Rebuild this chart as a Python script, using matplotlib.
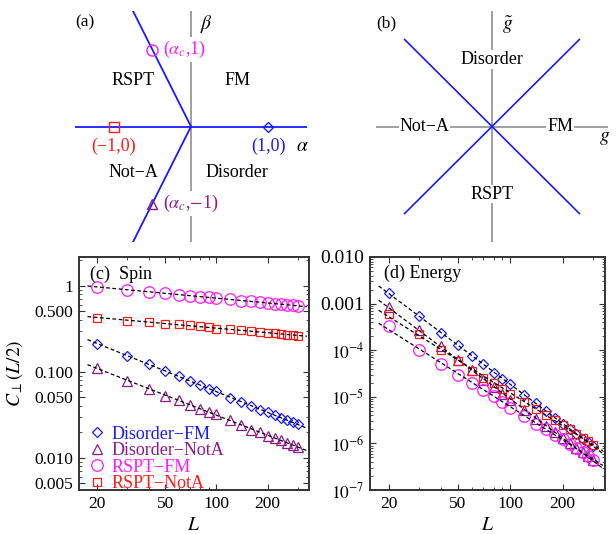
import numpy as np
import matplotlib
matplotlib.use("Agg")
import matplotlib.pyplot as plt

plt.rcParams['font.family'] = ['Liberation Serif', 'DejaVu Serif']
plt.rcParams['mathtext.fontset'] = 'stix'

# ---- data ----
alpha_c = -0.5
diag_end = 1.13

L = [20, 30, 40, 50, 60, 70, 80, 90, 100, 120, 140, 160, 180, 200, 220, 240, 260, 280, 300]

spin_dis_fm = [0.212, 0.153, 0.124, 0.101, 0.0883, 0.0772, 0.0706, 0.0629, 0.059, 0.0494,
               0.0444, 0.0395, 0.0362, 0.0337, 0.0311, 0.0289, 0.0277, 0.0258, 0.0246]
spin_dis_nota = [0.110, 0.0786, 0.0629, 0.0526, 0.0464, 0.0413, 0.0368, 0.0337, 0.0325, 0.0272,
                 0.0238, 0.0212, 0.0197, 0.0180, 0.0169, 0.0159, 0.0148, 0.0142, 0.0133]
spin_rspt_fm = [0.96, 0.90, 0.85, 0.81, 0.785, 0.765, 0.745, 0.73, 0.715, 0.69,
                0.67, 0.655, 0.64, 0.628, 0.617, 0.607, 0.598, 0.59, 0.582]
spin_rspt_nota = [0.421, 0.392, 0.375, 0.362, 0.355, 0.346, 0.337, 0.328, 0.316, 0.313,
                  0.303, 0.294, 0.287, 0.284, 0.279, 0.274, 0.269, 0.264, 0.262]

energy_dis_fm = [1.72e-3, 5.3e-4, 2.34e-4, 1.27e-4, 7.6e-5, 4.95e-5, 3.3e-5, 2.45e-5, 1.86e-5, 1.1e-5,
                 7.4e-6, 5.0e-6, 3.57e-6, 2.66e-6, 2.07e-6, 1.6e-6, 1.27e-6, 1.06e-6, 8.7e-7]
energy_dis_nota = [8.5e-4, 2.75e-4, 1.22e-4, 6.2e-5, 3.7e-5, 2.35e-5, 1.62e-5, 1.16e-5, 8.5e-6, 5.2e-6,
                   3.4e-6, 2.35e-6, 1.72e-6, 1.30e-6, 1.0e-6, 7.9e-7, 6.4e-7, 5.3e-7, 4.4e-7]
energy_rspt_fm = [3.26e-4, 1.02e-4, 5.1e-5, 3.0e-5, 2.0e-5, 1.38e-5, 1.03e-5, 7.8e-6, 5.8e-6, 3.8e-6,
                  2.66e-6, 2.0e-6, 1.55e-6, 1.22e-6, 9.8e-7, 8.0e-7, 6.6e-7, 5.4e-7, 4.5e-7]
energy_rspt_nota = [5.9e-4, 2.2e-4, 1.03e-4, 5.9e-5, 3.6e-5, 2.5e-5, 2.0e-5, 1.5e-5, 1.17e-5, 7.8e-6,
                    5.4e-6, 4.0e-6, 3.15e-6, 2.5e-6, 2.0e-6, 1.62e-6, 1.33e-6, 1.12e-6, 9.2e-7]

labels = ['Disorder\u2212FM', 'Disorder\u2212NotA', 'RSPT\u2212FM', 'RSPT\u2212NotA']

BLUE = '#1a1aff'
PURPLE = '#8b1a8b'
MAGENTA = '#ff1aff'
RED = '#ff1a1a'
GRAY = '0.6'
FRAME = '#333333'

series_style = [
    dict(marker='D', color=BLUE, ms=5.6),
    dict(marker='^', color=PURPLE, ms=7.2),
    dict(marker='o', color=MAGENTA, ms=8.3),
    dict(marker='s', color=RED, ms=6.4),
]

W, H = 616, 534
fig = plt.figure(figsize=(W / 100, H / 100), dpi=100)


def px_axes(l, t, r, b):
    return fig.add_axes([l / W, 1 - b / H, (r - l) / W, (b - t) / H])


FS = 13

# ---- (a) phase diagram ----
ax = px_axes(75, 11, 307, 242)
ax.set_xlim(-1.5, 1.5)
ax.set_ylim(-1.5, 1.5)
ax.axis('off')
ax.plot([0, 0], [-1.5, 1.5], color=GRAY, lw=1.3, zorder=1)
ax.plot([-1.5, 1.5], [0, 0], color=BLUE, lw=1.3, zorder=2)
ax.plot([1.5 * alpha_c, 0, 1.5 * alpha_c], [1.5, 0, -1.5], color=BLUE, lw=1.3, zorder=2)

ax.plot(alpha_c, 1, 'o', mfc='none', mec=MAGENTA, ms=8.0, zorder=4)
ax.plot(alpha_c, -1, '^', mfc='none', mec=PURPLE, ms=7.0, zorder=4)
ax.plot(-1, 0, 's', mfc='none', mec=RED, ms=6.5, zorder=4)
ax.plot(1, 0, 'D', mfc='none', mec=BLUE, ms=5.4, zorder=4)

wbox = dict(facecolor='white', edgecolor='none', pad=1.0)
ax.text(alpha_c + 0.14, 1, r'($\alpha_c$,1)', color=MAGENTA, fontsize=FS, va='center', ha='left',
        bbox=wbox, zorder=3)
ax.text(alpha_c + 0.14, -1, r'($\alpha_c$,$-$1)', color=PURPLE, fontsize=FS, va='center', ha='left',
        bbox=wbox, zorder=3)
ax.text(-1, -0.26, '(\u22121,0)', color=RED, fontsize=FS, ha='center', va='center')
ax.text(1, -0.26, '(1,0)', color=BLUE, fontsize=FS, ha='center', va='center')
ax.text(1.44, -0.26, r'$\alpha$', fontsize=FS + 1, ha='center', va='center')
ax.text(0.2, 1.33, r'$\beta$', fontsize=FS + 1, ha='center', va='center')
ax.text(-0.75, 0.6, 'RSPT', fontsize=FS, ha='center', va='center')
ax.text(0.6, 0.6, 'FM', fontsize=FS, ha='center', va='center')
ax.text(-0.75, -0.6, 'Not\u2212A', fontsize=FS, ha='center', va='center')
ax.text(0.6, -0.6, 'Disorder', fontsize=FS, ha='center', va='center')
ax.text(-1.37, 1.35, '(a)', fontsize=FS - 0.5, ha='center', va='center')

# ---- (b) phase diagram ----
ax = px_axes(376, 11, 608, 242)
ax.set_xlim(-1.5, 1.5)
ax.set_ylim(-1.5, 1.5)
ax.axis('off')
ax.plot([0, 0], [-1.5, 1.5], color=GRAY, lw=1.3, zorder=1)
ax.plot([-1.5, 1.5], [0, 0], color=GRAY, lw=1.3, zorder=1)
ax.plot([-diag_end, diag_end], [-diag_end, diag_end], color=BLUE, lw=1.2, zorder=2)
ax.plot([-diag_end, diag_end], [diag_end, -diag_end], color=BLUE, lw=1.2, zorder=2)
tbox = dict(facecolor='white', edgecolor='none', pad=0.5)
ax.text(0, 0.87, 'Disorder', fontsize=FS, ha='center', va='center', bbox=tbox, zorder=3)
ax.text(0, -0.88, 'RSPT', fontsize=FS, ha='center', va='center', bbox=tbox, zorder=3)
ax.text(-0.87, 0, 'Not\u2212A', fontsize=FS, ha='center', va='center', bbox=tbox, zorder=3)
ax.text(0.88, 0, 'FM', fontsize=FS, ha='center', va='center', bbox=tbox, zorder=3)
ax.text(0.2, 1.32, r'$\tilde{g}$', fontsize=FS + 1, ha='center', va='center')
ax.text(1.45, -0.15, r'$g$', fontsize=FS + 1, ha='center', va='center')
ax.text(-1.37, 1.34, '(b)', fontsize=FS - 0.5, ha='center', va='center')


# ---- (c), (d) scaling plots ----
def style_log_axes(ax):
    for s in ax.spines.values():
        s.set_color(FRAME)
        s.set_linewidth(1.4)
    ax.tick_params(which='both', direction='in', top=True, right=True, color=FRAME,
                   labelsize=FS - 0.5, pad=4)
    ax.tick_params(which='major', length=4, width=0.8)
    ax.tick_params(which='minor', length=2, width=0.6)
    ax.set_xlim(15.6, 350)
    ax.set_xticks([20, 50, 100, 200], ['20', '50', '100', '200'])
    ax.set_xticks([30, 40, 60, 70, 80, 90, 300], minor=True)
    ax.set_xlabel(r'$L$', fontsize=FS + 1, labelpad=4)


def draw_series(ax, data):
    Lfit = np.array([17.5, 340])
    for y, st in zip(data, series_style):
        ax.plot(L, y, linestyle='none', marker=st['marker'], ms=st['ms'], mfc='none',
                mec=st['color'], mew=0.9, zorder=3)
        k, b = np.polyfit(np.log(L), np.log(y), 1)
        ax.plot(Lfit, np.exp(b) * Lfit ** k, color='black', lw=0.9, ls=(0, (3, 2)), zorder=4)


ax = px_axes(79, 257, 309, 490)
ax.set_xscale('log')
ax.set_yscale('log')
draw_series(ax, [spin_dis_fm, spin_dis_nota, spin_rspt_fm, spin_rspt_nota])
style_log_axes(ax)
ax.set_ylim(0.0042, 2.15)
ax.set_yticks([1, 0.5, 0.1, 0.05, 0.01, 0.005], ['1', '0.500', '0.100', '0.050', '0.010', '0.005'])
ax.set_yticks([2, 0.9, 0.8, 0.7, 0.6, 0.4, 0.3, 0.2, 0.09, 0.08, 0.07, 0.06, 0.04, 0.03, 0.02,
               0.009, 0.008, 0.007, 0.006], minor=True)
ax.set_ylabel(r'$C_{\perp}(L/2)$', fontsize=FS + 1, labelpad=7)
ax.text(0.05, 0.925, '(c)  Spin', transform=ax.transAxes, fontsize=FS, va='center', ha='left')
handles = [plt.Line2D([], [], linestyle='none', marker=st['marker'], ms=st['ms'], mfc='none',
                      mec=st['color'], mew=0.9) for st in series_style]
ax.legend(handles, labels, loc='lower left', bbox_to_anchor=(0.014, -0.04), frameon=False,
          fontsize=FS, handlelength=0.8, handletextpad=0.43, labelspacing=-0.03, borderaxespad=0,
          labelcolor=[st['color'] for st in series_style])

ax = px_axes(370, 257, 605, 490)
ax.set_xscale('log')
ax.set_yscale('log')
draw_series(ax, [energy_dis_fm, energy_dis_nota, energy_rspt_fm, energy_rspt_nota])
style_log_axes(ax)
ax.set_ylim(1e-7, 1e-2)
ax.set_yticks([1e-2, 1e-3, 1e-4, 1e-5, 1e-6, 1e-7],
              ['0.010', '0.001', r'$10^{-4}$', r'$10^{-5}$', r'$10^{-6}$', r'$10^{-7}$'])
for t in ax.get_yticklabels()[:2]:
    t.set_fontsize(14)
ax.text(0.06, 0.93, '(d) Energy', transform=ax.transAxes, fontsize=FS, va='center', ha='left')

fig.savefig('out.png', dpi=100)
